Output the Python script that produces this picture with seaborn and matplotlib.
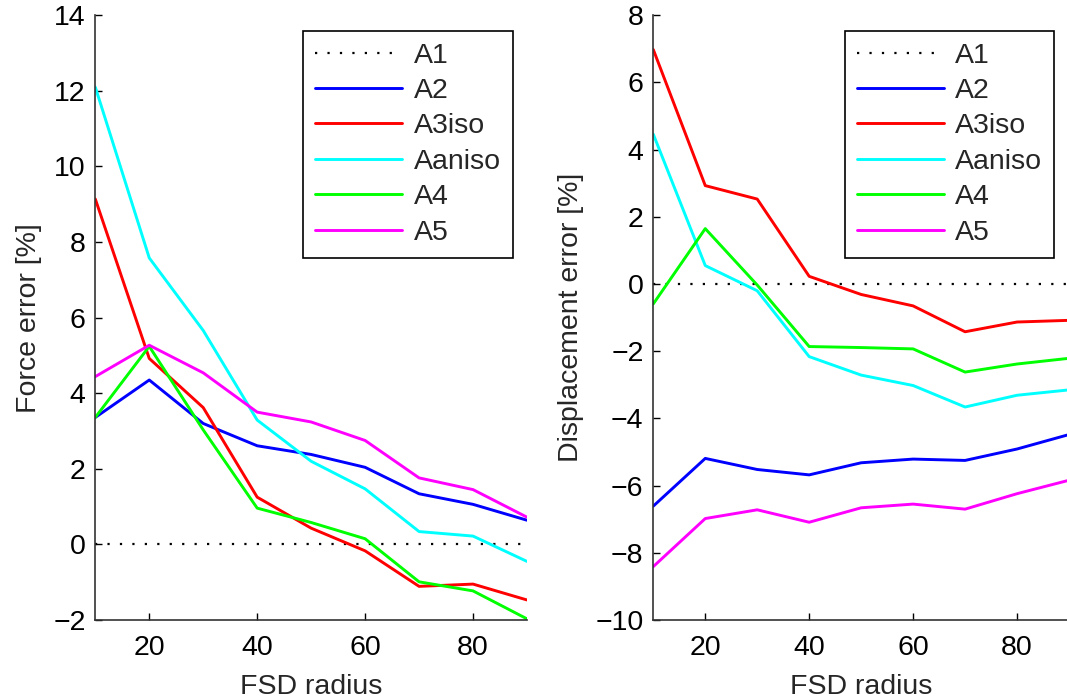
import numpy as np
import pandas as pd
import matplotlib
matplotlib.use("Agg")
import matplotlib.pyplot as plt
import seaborn as sns

sns.set_style("white")
plt.rcParams['font.family'] = ['Liberation Sans', 'DejaVu Sans']

radius = [10, 20, 30, 40, 50, 60, 70, 80, 90]
series_names = ["A1", "A2", "A3iso", "Aaniso", "A4", "A5"]

force_A1 = [0, 0, 0, 0, 0, 0, 0, 0, 0]
force_A2 = [3.36, 4.35, 3.20, 2.61, 2.38, 2.04, 1.34, 1.06, 0.64]
force_A3iso = [9.14, 4.92, 3.62, 1.25, 0.43, -0.17, -1.11, -1.05, -1.47]
force_Aaniso = [12.1, 7.58, 5.66, 3.29, 2.20, 1.47, 0.34, 0.22, -0.45]
force_A4 = [3.36, 5.24, 3.03, 0.96, 0.58, 0.15, -0.99, -1.23, -1.97]
force_A5 = [4.44, 5.27, 4.54, 3.50, 3.24, 2.75, 1.76, 1.45, 0.72]

disp_A1 = [0, 0, 0, 0, 0, 0, 0, 0, 0]
disp_A2 = [-6.61, -5.19, -5.52, -5.68, -5.32, -5.21, -5.25, -4.91, -4.48]
disp_A3iso = [6.98, 2.93, 2.53, 0.23, -0.31, -0.65, -1.42, -1.13, -1.08]
disp_Aaniso = [4.46, 0.55, -0.20, -2.16, -2.71, -3.02, -3.66, -3.31, -3.15]
disp_A4 = [-0.59, 1.65, -0.03, -1.86, -1.89, -1.93, -2.62, -2.38, -2.21]
disp_A5 = [-8.41, -6.98, -6.72, -7.09, -6.66, -6.55, -6.70, -6.24, -5.84]

colors = {"A1": "black", "A2": "#0000ff", "A3iso": "#ff0000",
          "Aaniso": "#00ffff", "A4": "#00ff00", "A5": "#ff00ff"}

force = dict(zip(series_names, [force_A1, force_A2, force_A3iso, force_Aaniso, force_A4, force_A5]))
disp = dict(zip(series_names, [disp_A1, disp_A2, disp_A3iso, disp_Aaniso, disp_A4, disp_A5]))

W, H = 1067, 699
FS = 20.5
fig = plt.figure(figsize=(W / 100, H / 100), dpi=100)

def px_axes(x0, x1, y0, y1):
    return fig.add_axes([x0 / W, 1 - y1 / H, (x1 - x0) / W, (y1 - y0) / H])

ax1 = px_axes(95.3, 527.0, 15.3, 620.0)
ax2 = px_axes(653.3, 1069.0, 15.3, 620.0)

def draw(ax, data, ylim, yticks, ylabel, legend_anchor):
    for name in series_names:
        df = pd.DataFrame({"radius": radius, "value": data[name]})
        if name == "A1":
            sns.lineplot(data=df, x="radius", y="value", ax=ax, color=colors[name],
                         lw=1.6, label=name)
            ax.lines[-1].set_dashes((1, 4.6))
        else:
            sns.lineplot(data=df, x="radius", y="value", ax=ax, color=colors[name],
                         lw=2.1, label=name)
    ax.set_xlim(10, 90)
    ax.set_ylim(*ylim)
    ax.set_xticks([20, 40, 60, 80])
    ax.set_yticks(yticks)
    ax.set_xlabel("FSD radius", fontsize=FS, labelpad=10)
    ax.set_ylabel(ylabel, fontsize=FS, labelpad=8)
    ax.tick_params(direction="in", length=5, width=1, labelsize=FS, colors="black",
                   left=True, bottom=True, pad=7)
    ax.tick_params(axis="x", pad=10.5)
    for s in ["top", "right"]:
        ax.spines[s].set_visible(False)
    for s in ["left", "bottom"]:
        ax.spines[s].set_color("#333333")
        ax.spines[s].set_linewidth(1.2)
    leg = ax.legend(loc="upper right", bbox_to_anchor=legend_anchor,
                    bbox_transform=fig.transFigure, borderaxespad=0,
                    fontsize=FS, handlelength=3.05, handletextpad=0.4,
                    labelspacing=0.33, borderpad=0.42, fancybox=False,
                    framealpha=1, edgecolor="black")
    leg.get_frame().set_linewidth(1.2)

draw(ax1, force, (-2, 14), list(range(-2, 15, 2)), "Force error [%]",
     (512.7 / W, 1 - 30.7 / H))
draw(ax2, disp, (-10, 8), list(range(-10, 9, 2)), "Displacement error [%]",
     (1054 / W, 1 - 30.7 / H))

fig.savefig("out.png", dpi=100)
